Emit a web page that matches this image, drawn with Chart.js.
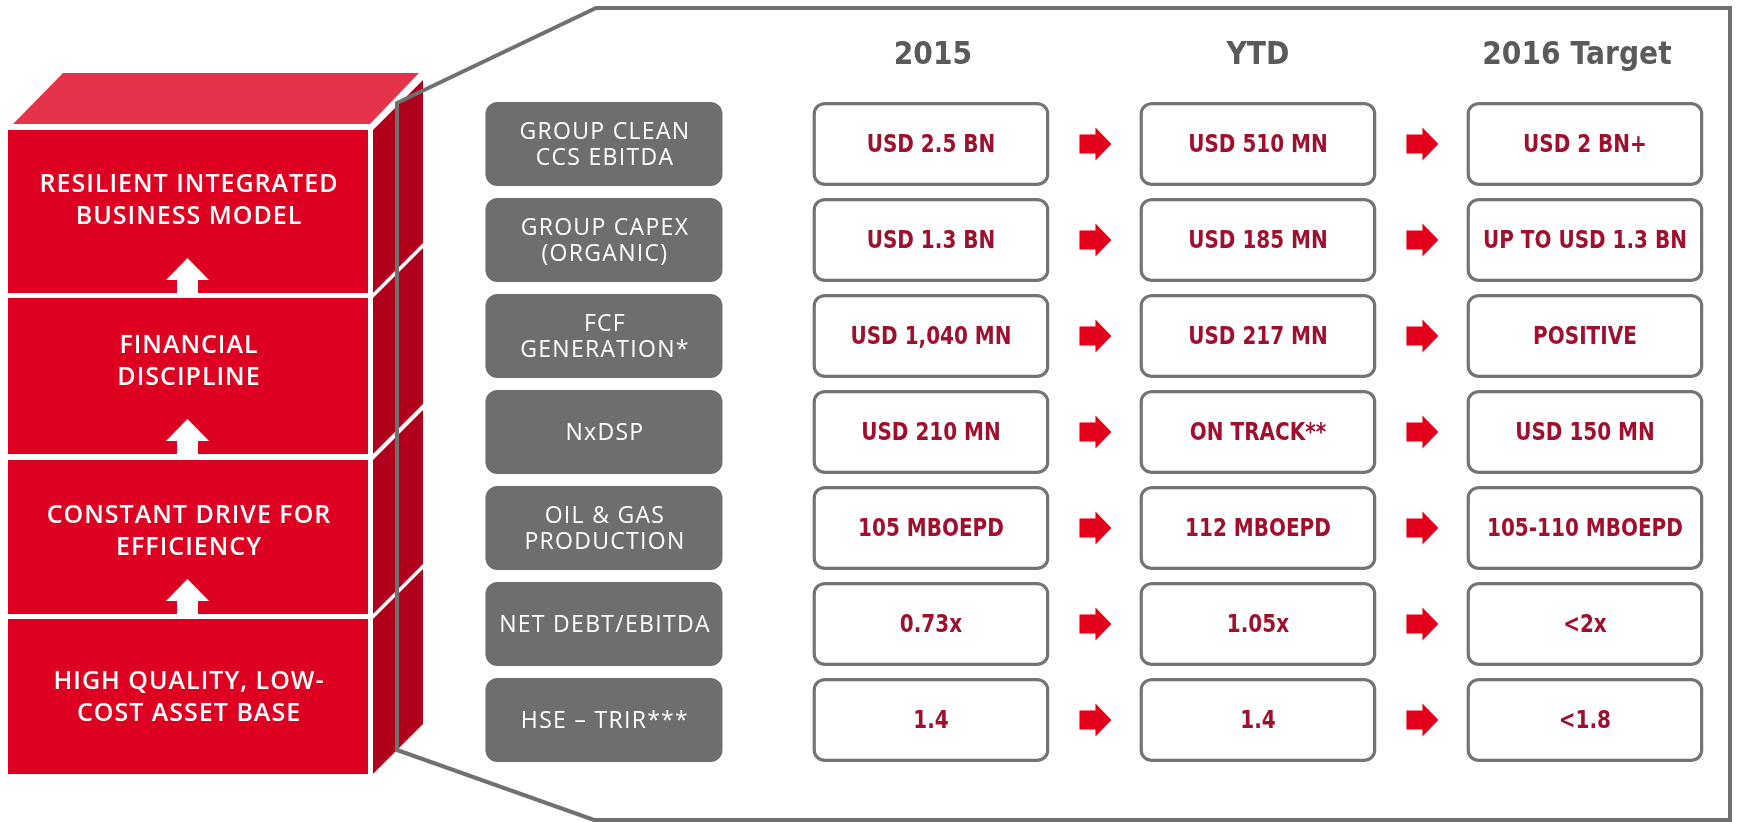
<!DOCTYPE html>
<html>
<head>
<meta charset="utf-8">
<script src="https://cdn.jsdelivr.net/npm/chart.js@4.4.1/dist/chart.umd.min.js"></script>
<style>
  html, body { margin: 0; padding: 0; background: #ffffff; }
  #wrap { width: 1737px; height: 822px; position: relative; }
</style>
</head>
<body>
<div id="wrap"><canvas id="c" width="1737" height="822"></canvas></div>
<script>
// ---------------- DATA ----------------
const metricLabels = [
  ["GROUP CLEAN", "CCS EBITDA"],
  ["GROUP CAPEX", "(ORGANIC)"],
  ["FCF", "GENERATION*"],
  ["NxDSP"],
  ["OIL & GAS", "PRODUCTION"],
  ["NET DEBT/EBITDA"],
  ["HSE \u2013 TRIR***"]
];
const periods = ["2015", "YTD", "2016 Target"];
const values2015 = ["USD 2.5 BN", "USD 1.3 BN", "USD 1,040 MN", "USD 210 MN", "105 MBOEPD", "0.73x", "1.4"];
const valuesYTD = ["USD 510 MN", "USD 185 MN", "USD 217 MN", "ON TRACK**", "112 MBOEPD", "1.05x", "1.4"];
const valuesTarget = ["USD 2 BN+", "UP TO USD 1.3 BN", "POSITIVE", "USD 150 MN", "105-110 MBOEPD", "<2x", "<1.8"];
const pillars = [
  ["RESILIENT INTEGRATED", "BUSINESS MODEL"],
  ["FINANCIAL", "DISCIPLINE"],
  ["CONSTANT DRIVE FOR", "EFFICIENCY"],
  ["HIGH QUALITY, LOW-", "COST ASSET BASE"]
];

// ---------------- LAYOUT / STYLE ----------------
const HALF = 0.3625;               // half box width in column units
const columnValues = [values2015, valuesYTD, valuesTarget];
const RED = '#e2001a';
const VAL_RED = '#9f0f2e';
const GRAY_BOX = '#6e6e6e';
const BORDER = '#747474';
const HEAD = '#5a5a5a';
const headShift = [2, 0, -8];

function span(c) { return metricLabels.map(() => [c - HALF, c + HALF]); }

const datasets = [
  { label: 'metric', data: span(0), backgroundColor: GRAY_BOX, borderWidth: 0, borderRadius: 12, borderSkipped: false, grouped: false, texts: metricLabels.map(l => l) }
];
columnValues.forEach((vals, i) => {
  datasets.push({ label: periods[i], data: span(i + 1), backgroundColor: '#ffffff', borderColor: BORDER, borderWidth: 3.5, borderRadius: 12, borderSkipped: false, grouped: false, texts: vals.map(v => [v]) });
});

// cube geometry (decoration)
const blocks = [[130, 293, 201], [298, 454, 361.5], [460, 614, 531.5], [619, 774, 697.5]];

function textScaled(ctx, str, x, y, sx) {
  ctx.save();
  ctx.translate(x, y);
  ctx.scale(sx, 1);
  ctx.fillText(str, 0, 0);
  ctx.restore();
}

const decor = {
  id: 'decor',
  beforeDatasetsDraw(chart) {
    const ctx = chart.ctx;
    ctx.save();
    // top face
    ctx.fillStyle = '#e5334b';
    ctx.beginPath();
    ctx.moveTo(13, 124); ctx.lineTo(370, 124); ctx.lineTo(419, 73); ctx.lineTo(63, 73); ctx.closePath(); ctx.fill();
    blocks.forEach(([t, b]) => {
      ctx.fillStyle = '#de0020';
      ctx.fillRect(8, t, 360, b - t);
      ctx.fillStyle = '#b0001c';
      ctx.beginPath();
      ctx.moveTo(373, t); ctx.lineTo(423, t - 50); ctx.lineTo(423, b - 50); ctx.lineTo(373, b); ctx.closePath(); ctx.fill();
    });
    // pillar text
    ctx.fillStyle = '#ffffff';
    ctx.textAlign = 'center';
    ctx.textBaseline = 'middle';
    ctx.font = '600 25px "Open Sans"';
    try { ctx.letterSpacing = '1px'; } catch (e) {}
    blocks.forEach(([t, b, ty], i) => {
      const lines = pillars[i];
      ctx.fillText(lines[0], 189, ty - 16);
      ctx.fillText(lines[1], 189, ty + 16);
    });
    try { ctx.letterSpacing = '0px'; } catch (e) {}
    // up arrows
    for (let i = 0; i < blocks.length - 1; i++) {
      const ub = blocks[i][1], lt = blocks[i + 1][0];
      const cx = 187.5;
      ctx.beginPath();
      ctx.moveTo(cx, ub - 35);
      ctx.lineTo(cx + 21.5, ub - 13);
      ctx.lineTo(cx + 10.5, ub - 13);
      ctx.lineTo(cx + 10.5, lt);
      ctx.lineTo(cx - 10.5, lt);
      ctx.lineTo(cx - 10.5, ub - 13);
      ctx.lineTo(cx - 21.5, ub - 13);
      ctx.closePath();
      ctx.fill();
    }
    // panel outline
    ctx.strokeStyle = '#707070';
    ctx.lineWidth = 4;
    ctx.lineJoin = 'miter';
    ctx.beginPath();
    ctx.moveTo(397, 103); ctx.lineTo(596, 8); ctx.lineTo(1730, 8); ctx.lineTo(1730, 820); ctx.lineTo(594, 820); ctx.lineTo(397, 750); ctx.closePath();
    ctx.stroke();

    // headers
    const xs = chart.scales.x;
    ctx.fillStyle = HEAD;
    ctx.font = 'bold 32px "DejaVu Sans"';
    ctx.textBaseline = 'middle';
    periods.forEach((p, i) => textScaled(ctx, p, xs.getPixelForValue(i + 1) + headShift[i], 56, 0.88));
    ctx.restore();
  },
  afterDatasetsDraw(chart) {
    const ctx = chart.ctx;
    const xs = chart.scales.x;
    ctx.save();
    ctx.textAlign = 'center';
    ctx.textBaseline = 'middle';
    chart.data.datasets.forEach((ds, di) => {
      const meta = chart.getDatasetMeta(di);
      meta.data.forEach((bar, ri) => {
        const cx = (bar.x + bar.base) / 2;
        const cy = bar.y;
        const lines = ds.texts[ri];
        if (di === 0) {
          ctx.fillStyle = '#ffffff';
          ctx.font = '500 23px "Open Sans"';
          try { ctx.letterSpacing = '1.3px'; } catch (e) {}
          if (lines.length === 1) {
            ctx.fillText(lines[0], cx + 1, cy + 1);
          } else {
            ctx.fillText(lines[0], cx + 1, cy - 12);
            ctx.fillText(lines[1], cx + 1, cy + 14);
          }
        } else {
          ctx.fillStyle = VAL_RED;
          ctx.font = 'bold 25px "DejaVu Sans"';
          try { ctx.letterSpacing = '0px'; } catch (e) {}
          textScaled(ctx, lines[0], cx, cy + 1, 0.8);
        }
      });
    });
    try { ctx.letterSpacing = '0px'; } catch (e) {}
    // red arrows between columns
    ctx.fillStyle = RED;
    const ys = chart.scales.y;
    metricLabels.forEach((m, ri) => {
      const y = ys.getPixelForValue(ri);
      [1.5, 2.5].forEach(v => {
        const cx = xs.getPixelForValue(v) + 1;
        const x0 = cx - 16;
        ctx.beginPath();
        ctx.moveTo(x0, y - 9.5);
        ctx.lineTo(x0 + 16, y - 9.5);
        ctx.lineTo(x0 + 16, y - 16.5);
        ctx.lineTo(x0 + 32, y);
        ctx.lineTo(x0 + 16, y + 16.5);
        ctx.lineTo(x0 + 16, y + 9.5);
        ctx.lineTo(x0, y + 9.5);
        ctx.closePath();
        ctx.fill();
      });
    });
    ctx.restore();
  }
};

new Chart(document.getElementById('c'), {
  type: 'bar',
  data: {
    labels: metricLabels.map(l => l.join(' ')),
    datasets: datasets
  },
  options: {
    indexAxis: 'y',
    responsive: false,
    animation: false,
    events: [],
    layout: { padding: { top: 96, bottom: 54, left: 0, right: 0 } },
    datasets: { bar: { categoryPercentage: 1, barPercentage: 0.875 } },
    plugins: { legend: { display: false }, tooltip: { enabled: false } },
    scales: {
      x: { type: 'linear', min: -1.847, max: 3.465, display: false },
      y: { type: 'category', display: false, offset: true }
    }
  },
  plugins: [decor]
});
</script>
</body>
</html>
